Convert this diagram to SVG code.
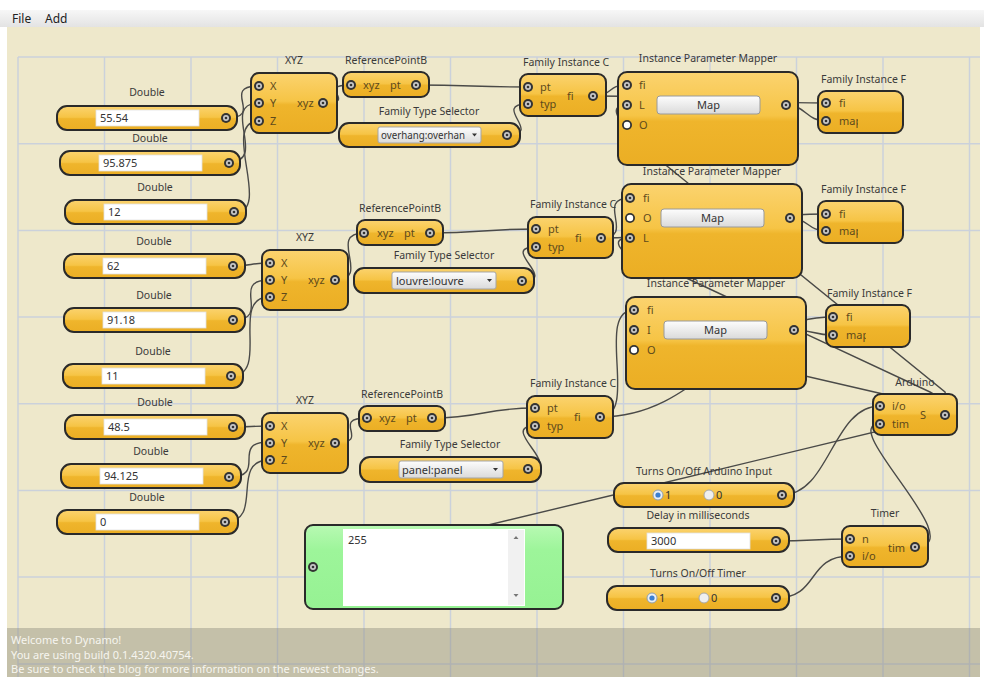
<svg xmlns="http://www.w3.org/2000/svg" width="984" height="677" viewBox="0 0 984 677">
<defs>
<linearGradient id="gO" x1="0" y1="0" x2="0" y2="1">
<stop offset="0" stop-color="#FBD36F"/><stop offset="0.47" stop-color="#F6C445"/><stop offset="0.53" stop-color="#EFB52C"/><stop offset="1" stop-color="#EBAE24"/>
</linearGradient>
<linearGradient id="gG" x1="0" y1="0" x2="0" y2="1">
<stop offset="0" stop-color="#B8F9B3"/><stop offset="0.3" stop-color="#9DF59A"/><stop offset="1" stop-color="#96F293"/>
</linearGradient>
<linearGradient id="gB" x1="0" y1="0" x2="0" y2="1">
<stop offset="0" stop-color="#FDFDFD"/><stop offset="1" stop-color="#DADADA"/>
</linearGradient>
<linearGradient id="gM" x1="0" y1="0" x2="0" y2="1">
<stop offset="0" stop-color="#F7F7F7"/><stop offset="1" stop-color="#E3E3E3"/>
</linearGradient>
<g id="p"><circle r="5" fill="#333"/><circle r="3" fill="#c9c9c9"/><circle r="1.3" fill="#333"/></g>
<g id="pw"><circle r="5" fill="#333"/><circle r="3.2" fill="#fff"/></g>
<g id="r1"><circle r="5" fill="#e9eff6" stroke="#8f9fb0" stroke-width="1"/><circle r="2.6" fill="#3b7fd0"/></g>
<g id="r0"><circle r="5" fill="#efefef" stroke="#a8a8a8" stroke-width="1"/></g>
<clipPath id="cm"><rect x="0" y="20" width="40" height="20"/></clipPath>
<style>
.n{fill:url(#gO);stroke:#2a2a2a;stroke-width:2}
.t{font-family:"Noto Sans","Open Sans",sans-serif;font-size:10.5px;fill:#3a3a3a;text-anchor:middle}
.ts{font-family:"Noto Sans","Open Sans",sans-serif;font-size:10.5px;fill:#3a3a3a}
.pl{font-family:"Noto Sans","Open Sans",sans-serif;font-size:11px;fill:#5e4a1c}
.v{font-family:"Noto Sans","Open Sans",sans-serif;font-size:11px;fill:#333}
.tb{fill:#fff;stroke:#e2e2e2;stroke-width:0.8}
.dd{fill:url(#gB);stroke:#a5a5a5;stroke-width:1}
.btn{fill:url(#gB);stroke:#9a9a9a;stroke-width:1}
.w{fill:none;stroke:#4a4a48;stroke-width:1.4}
.g{stroke:#CBD1DB;stroke-width:1.5}
.st{font-family:"Noto Sans","Open Sans",sans-serif;font-size:11px;fill:#f6f5ef}
.menu{font-family:"Noto Sans","Open Sans",sans-serif;font-size:12px;fill:#222}
</style>
</defs>

<rect width="984" height="677" fill="#ffffff"/>
<rect x="7" y="27" width="973" height="650" fill="#EEE8CB"/>

<g id="grid">
<path class="g" d="M18,57V677M104.5,57V677M191,57V677M277.5,57V677M364,57V677M450.5,57V677M537,57V677M623.5,57V677M710,57V677M796.5,57V677M883,57V677M969.5,57V677"/>
<path class="g" d="M18,57H980M18,143.7H980M18,230.4H980M18,317H980M18,403.8H980M18,490.5H980M18,577H980M18,663.9H980"/>
</g>

<g id="connectors">
<path class="w" d="M226,118 C266,118 219,86 259,86"/>
<path class="w" d="M229,162 C269,162 219,103 259,103"/>
<path class="w" d="M234,213 C274,213 219,121 259,121"/>
<path class="w" d="M323,103 C361,103 313,85 351,85"/>
<path class="w" d="M416,85 C472,85 472,87 528,87"/>
<path class="w" d="M507,135 C545,135 490,104 528,104"/>
<path class="w" d="M593,96 C613,96 607,85 627,85"/>
<path class="w" d="M593,96 C700,96 720,103 826,103"/>
<path class="w" d="M786,105 C806,105 806,121 826,121"/>
<path class="w" d="M233,266 C251,266 251,263 269,263"/>
<path class="w" d="M233,320 C273,320 229,280 269,280"/>
<path class="w" d="M231,376 C271,376 229,297 269,297"/>
<path class="w" d="M335,280 C373,280 326,233 364,233"/>
<path class="w" d="M430,233 C483,233 483,229 536,229"/>
<path class="w" d="M522,281 C560,281 498,247 536,247"/>
<path class="w" d="M601,238 C637,238 594,198 630,198"/>
<path class="w" d="M601,238 C700,238 727,214 826,214"/>
<path class="w" d="M790,218 C808,218 808,231 826,231"/>
<path class="w" d="M233,427 C251,427 251,426 269,426"/>
<path class="w" d="M229,477 C269,477 229,442 269,442"/>
<path class="w" d="M225,522 C265,522 229,460 269,460"/>
<path class="w" d="M335,443 C373,443 329,418 367,418"/>
<path class="w" d="M432,418 C483,418 484,408 535,408"/>
<path class="w" d="M528,469 C566,469 497,426 535,426"/>
<path class="w" d="M600,417 C640,417 594,310 634,310"/>
<path class="w" d="M600,417 C700,417 733,317 833,317"/>
<path class="w" d="M794,330 C814,330 813,335 833,335"/>
<path class="w" d="M945,415 Q948,400 945,392 L662,162 Q634,140 620,120 Q610,105 627,105"/>
<path class="w" d="M945,415 Q942,398 930,392 L682,276 Q640,258 622,250 Q612,238 630,238"/>
<path class="w" d="M945,415 Q900,400 883,394 L650,340 Q612,332 634,330"/>
<path class="w" d="M945,415 C900,426 360,556 313,567"/>
<path class="w" d="M782,495 C830,495 832,406 880,406"/>
<path class="w" d="M915,547 C975,547 835,424 880,424"/>
<path class="w" d="M776,541 C813,541 813,539 850,539"/>
<path class="w" d="M776,598 C820,598 806,556 850,556"/>
</g>

<!-- Double nodes -->
<g id="double1" transform="translate(57,106)"><text class="t" x="90" y="-10">Double</text><rect class="n" width="180" height="24" rx="10"/><rect class="tb" x="39" y="4" width="103" height="16"/><text class="v" x="43" y="16">55.54</text><use href="#p" x="169" y="12"/></g>
<g id="double2" transform="translate(60,151)"><text class="t" x="90" y="-9">Double</text><rect class="n" width="180" height="24" rx="10"/><rect class="tb" x="39" y="4" width="103" height="16"/><text class="v" x="43" y="16">95.875</text><use href="#p" x="169" y="12"/></g>
<g id="double3" transform="translate(65,200)"><text class="t" x="90" y="-9">Double</text><rect class="n" width="181" height="24" rx="10"/><rect class="tb" x="39" y="4" width="103" height="16"/><text class="v" x="43" y="16">12</text><use href="#p" x="169" y="12"/></g>
<g id="double4" transform="translate(64,254)"><text class="t" x="90" y="-9">Double</text><rect class="n" width="181" height="24" rx="10"/><rect class="tb" x="39" y="4" width="103" height="16"/><text class="v" x="43" y="16">62</text><use href="#p" x="169" y="12"/></g>
<g id="double5" transform="translate(64,308)"><text class="t" x="90" y="-9">Double</text><rect class="n" width="181" height="24" rx="10"/><rect class="tb" x="39" y="4" width="103" height="16"/><text class="v" x="43" y="16">91.18</text><use href="#p" x="169" y="12"/></g>
<g id="double6" transform="translate(63,364)"><text class="t" x="90" y="-9">Double</text><rect class="n" width="180" height="24" rx="10"/><rect class="tb" x="39" y="4" width="103" height="16"/><text class="v" x="43" y="16">11</text><use href="#p" x="168" y="12"/></g>
<g id="double7" transform="translate(65,415)"><text class="t" x="90" y="-9">Double</text><rect class="n" width="180" height="24" rx="10"/><rect class="tb" x="39" y="4" width="103" height="16"/><text class="v" x="43" y="16">48.5</text><use href="#p" x="168" y="12"/></g>
<g id="double8" transform="translate(61,464)"><text class="t" x="90" y="-9">Double</text><rect class="n" width="180" height="24" rx="10"/><rect class="tb" x="39" y="4" width="103" height="16"/><text class="v" x="43" y="16">94.125</text><use href="#p" x="168" y="13"/></g>
<g id="double9" transform="translate(57,510)"><text class="t" x="90" y="-9">Double</text><rect class="n" width="181" height="24" rx="10"/><rect class="tb" x="39" y="4" width="103" height="16"/><text class="v" x="43" y="16">0</text><use href="#p" x="168" y="12"/></g>

<!-- XYZ nodes -->
<g id="xyz1" transform="translate(251,73)"><text class="t" x="43" y="-9">XYZ</text><rect class="n" width="86" height="60" rx="8"/><use href="#p" x="8" y="13"/><use href="#p" x="8" y="30"/><use href="#p" x="8" y="48"/><text class="pl" x="19" y="17">X</text><text class="pl" x="19" y="34">Y</text><text class="pl" x="19" y="52">Z</text><text class="pl" x="46" y="34">xyz</text><use href="#p" x="72" y="30"/></g>
<g id="xyz2" transform="translate(262,250)"><text class="t" x="43" y="-9">XYZ</text><rect class="n" width="86" height="60" rx="8"/><use href="#p" x="8" y="13"/><use href="#p" x="8" y="30"/><use href="#p" x="8" y="47"/><text class="pl" x="19" y="17">X</text><text class="pl" x="19" y="34">Y</text><text class="pl" x="19" y="51">Z</text><text class="pl" x="46" y="34">xyz</text><use href="#p" x="73" y="30"/></g>
<g id="xyz3" transform="translate(262,413)"><text class="t" x="43" y="-9">XYZ</text><rect class="n" width="86" height="60" rx="8"/><use href="#p" x="8" y="13"/><use href="#p" x="8" y="30"/><use href="#p" x="8" y="47"/><text class="pl" x="19" y="17">X</text><text class="pl" x="19" y="34">Y</text><text class="pl" x="19" y="51">Z</text><text class="pl" x="46" y="34">xyz</text><use href="#p" x="73" y="30"/></g>

<!-- ReferencePointByXyz -->
<g id="refpt1" transform="translate(343,72)"><text class="ts" x="2" y="-8">ReferencePointB</text><rect class="n" width="86" height="25" rx="8"/><use href="#p" x="8" y="13"/><text class="pl" x="20" y="17">xyz</text><text class="pl" x="47" y="17">pt</text><use href="#p" x="73" y="13"/></g>
<g id="refpt2" transform="translate(357,220)"><text class="ts" x="2" y="-8">ReferencePointB</text><rect class="n" width="86" height="25" rx="8"/><use href="#p" x="7" y="13"/><text class="pl" x="20" y="17">xyz</text><text class="pl" x="47" y="17">pt</text><use href="#p" x="73" y="13"/></g>
<g id="refpt3" transform="translate(359,406)"><text class="ts" x="2" y="-8">ReferencePointB</text><rect class="n" width="86" height="25" rx="8"/><use href="#p" x="8" y="12"/><text class="pl" x="20" y="16">xyz</text><text class="pl" x="47" y="16">pt</text><use href="#p" x="73" y="12"/></g>

<!-- Family Type Selectors -->
<g id="fts1" transform="translate(339,123)"><text class="t" x="90" y="-8">Family Type Selector</text><rect class="n" width="181" height="24" rx="10"/><rect class="dd" x="39" y="4" width="103" height="16" rx="2"/><text class="v" x="42" y="16" textLength="84" lengthAdjust="spacingAndGlyphs">overhang:overhan</text><path d="M133,10.5h5l-2.5,3z" fill="#333"/><use href="#p" x="168" y="12"/></g>
<g id="fts2" transform="translate(354,268)"><text class="t" x="90" y="-9">Family Type Selector</text><rect class="n" width="180" height="25" rx="10"/><rect class="dd" x="38" y="4" width="104" height="17" rx="2"/><text class="v" x="42" y="17">louvre:louvre</text><path d="M133,11h5l-2.5,3z" fill="#333"/><use href="#p" x="168" y="13"/></g>
<g id="fts3" transform="translate(360,457)"><text class="t" x="90" y="-9">Family Type Selector</text><rect class="n" width="181" height="25" rx="10"/><rect class="dd" x="39" y="4" width="104" height="17" rx="2"/><text class="v" x="42" y="17">panel:panel</text><path d="M133,11h5l-2.5,3z" fill="#333"/><use href="#p" x="168" y="12"/></g>

<!-- Family Instance Creators -->
<g id="fic1" transform="translate(520,74)"><text class="ts" x="3" y="-8">Family Instance C</text><rect class="n" width="86" height="42" rx="8"/><use href="#p" x="8" y="13"/><use href="#p" x="8" y="30"/><text class="pl" x="20" y="17">pt</text><text class="pl" x="20" y="34">typ</text><text class="pl" x="47" y="26">fi</text><use href="#p" x="73" y="22"/></g>
<g id="fic2" transform="translate(528,217)"><text class="ts" x="2" y="-9">Family Instance C</text><rect class="n" width="85" height="41" rx="8"/><use href="#p" x="8" y="12"/><use href="#p" x="8" y="30"/><text class="pl" x="20" y="16">pt</text><text class="pl" x="20" y="34">typ</text><text class="pl" x="47" y="25">fi</text><use href="#p" x="73" y="21"/></g>
<g id="fic3" transform="translate(527,396)"><text class="ts" x="3" y="-9">Family Instance C</text><rect class="n" width="86" height="42" rx="8"/><use href="#p" x="8" y="12"/><use href="#p" x="8" y="30"/><text class="pl" x="20" y="16">pt</text><text class="pl" x="20" y="34">typ</text><text class="pl" x="47" y="25">fi</text><use href="#p" x="73" y="21"/></g>

<!-- Instance Parameter Mappers -->
<g id="ipm1" transform="translate(618,72)"><text class="t" x="90" y="-10">Instance Parameter Mapper</text><rect class="n" width="180" height="93" rx="9"/><use href="#p" x="9" y="13"/><use href="#p" x="9" y="33"/><use href="#pw" x="9" y="53"/><text class="pl" x="21" y="17">fi</text><text class="pl" x="21" y="37">L</text><text class="pl" x="21" y="57">O</text><rect class="btn" x="39" y="24" width="103" height="18" rx="3"/><text class="v" x="90.5" y="37" text-anchor="middle">Map</text><use href="#p" x="168" y="33"/></g>
<g id="ipm2" transform="translate(622,184)"><text class="t" x="90" y="-9">Instance Parameter Mapper</text><rect class="n" width="180" height="94" rx="9"/><use href="#p" x="8" y="14"/><use href="#pw" x="8" y="34"/><use href="#p" x="8" y="54"/><text class="pl" x="21" y="18">fi</text><text class="pl" x="21" y="38">O</text><text class="pl" x="21" y="58">L</text><rect class="btn" x="39" y="25" width="103" height="18" rx="3"/><text class="v" x="90.5" y="38" text-anchor="middle">Map</text><use href="#p" x="168" y="34"/></g>
<g id="ipm3" transform="translate(626,297)"><text class="t" x="90" y="-10">Instance Parameter Mapper</text><rect class="n" width="180" height="92" rx="9"/><use href="#p" x="8" y="13"/><use href="#p" x="8" y="33"/><use href="#pw" x="8" y="53"/><text class="pl" x="21" y="17">fi</text><text class="pl" x="21" y="37">I</text><text class="pl" x="21" y="57">O</text><rect class="btn" x="38" y="24" width="103" height="18" rx="3"/><text class="v" x="89.5" y="37" text-anchor="middle">Map</text><use href="#p" x="168" y="33"/></g>

<!-- Family Instance Parameter nodes -->
<g id="fip1" transform="translate(818,91)"><text class="ts" x="3" y="-8">Family Instance F</text><rect class="n" width="85" height="42" rx="8"/><use href="#p" x="8" y="12"/><use href="#p" x="8" y="30"/><text class="pl" x="21" y="16">fi</text><text class="pl" x="21" y="34" clip-path="url(#cm)">map</text></g>
<g id="fip2" transform="translate(818,201)"><text class="ts" x="3" y="-8">Family Instance F</text><rect class="n" width="85" height="42" rx="8"/><use href="#p" x="8" y="13"/><use href="#p" x="8" y="30"/><text class="pl" x="21" y="17">fi</text><text class="pl" x="21" y="34" clip-path="url(#cm)">map</text></g>
<g id="fip3" transform="translate(826,305)"><text class="ts" x="1" y="-8">Family Instance F</text><rect class="n" width="84" height="42" rx="8"/><use href="#p" x="7" y="12"/><use href="#p" x="7" y="30"/><text class="pl" x="20" y="16">fi</text><text class="pl" x="20" y="34" clip-path="url(#cm)">map</text></g>

<!-- Arduino -->
<g id="arduino" transform="translate(873,394)"><text class="t" x="42" y="-8">Arduino</text><rect class="n" width="84" height="41" rx="8"/><use href="#p" x="7" y="12"/><use href="#p" x="7" y="30"/><text class="pl" x="19" y="16">i/o</text><text class="pl" x="19" y="34">tim</text><text class="pl" x="47" y="25">S</text><use href="#p" x="72" y="21"/></g>

<!-- Toggles / Delay / Timer -->
<g id="arduinoToggle" transform="translate(614,483)"><text class="t" x="90" y="-8">Turns On/Off Arduino Input</text><rect class="n" width="180" height="24" rx="10"/><use href="#r1" x="44" y="12"/><text class="v" x="51" y="16">1</text><use href="#r0" x="95" y="12"/><text class="v" x="102" y="16">0</text><use href="#p" x="168" y="12"/></g>
<g id="delay" transform="translate(608,528)"><text class="t" x="90" y="-9">Delay in milliseconds</text><rect class="n" width="181" height="24" rx="10"/><rect class="tb" x="39" y="5" width="103" height="16"/><text class="v" x="43" y="17">3000</text><use href="#p" x="168" y="13"/></g>
<g id="timerToggle" transform="translate(607,586)"><text class="t" x="91" y="-9">Turns On/Off Timer</text><rect class="n" width="182" height="24" rx="10"/><use href="#r1" x="45" y="12"/><text class="v" x="52" y="16">1</text><use href="#r0" x="97" y="12"/><text class="v" x="104" y="16">0</text><use href="#p" x="169" y="12"/></g>
<g id="timer" transform="translate(842,526)"><text class="t" x="43" y="-9">Timer</text><rect class="n" width="86" height="41" rx="8"/><use href="#p" x="8" y="13"/><use href="#p" x="8" y="30"/><text class="pl" x="20" y="17">n</text><text class="pl" x="20" y="34">i/o</text><text class="pl" x="46" y="26">tim</text><use href="#p" x="73" y="21"/></g>

<!-- Watch -->
<g id="watch" transform="translate(305,525)"><rect width="258" height="84" rx="8" fill="url(#gG)" stroke="#2a2a2a" stroke-width="2"/><rect x="38" y="4" width="182" height="77" fill="#fff"/><rect x="203" y="5" width="16" height="75" fill="#f1f1f1"/><path d="M208.5,14h5l-2.5,-3z M208.5,69h5l-2.5,3z" fill="#777"/><text class="v" x="43" y="19">255</text><use href="#p" x="8" y="42"/></g>

<!-- status -->
<g id="status">
<rect x="7" y="628" width="973" height="49" fill="#8a877a" fill-opacity="0.42"/>
<text class="st" x="11" y="644">Welcome to Dynamo!</text>
<text class="st" x="11" y="659">You are using build 0.1.4320.40754.</text>
<text class="st" x="11" y="673">Be sure to check the blog for more information on the newest changes.</text>
</g>

<g id="menubar">
<rect x="0" y="10" width="984" height="17" fill="url(#gM)"/>
<text class="menu" x="12" y="23">File</text>
<text class="menu" x="45" y="23">Add</text>
</g>
</svg>
